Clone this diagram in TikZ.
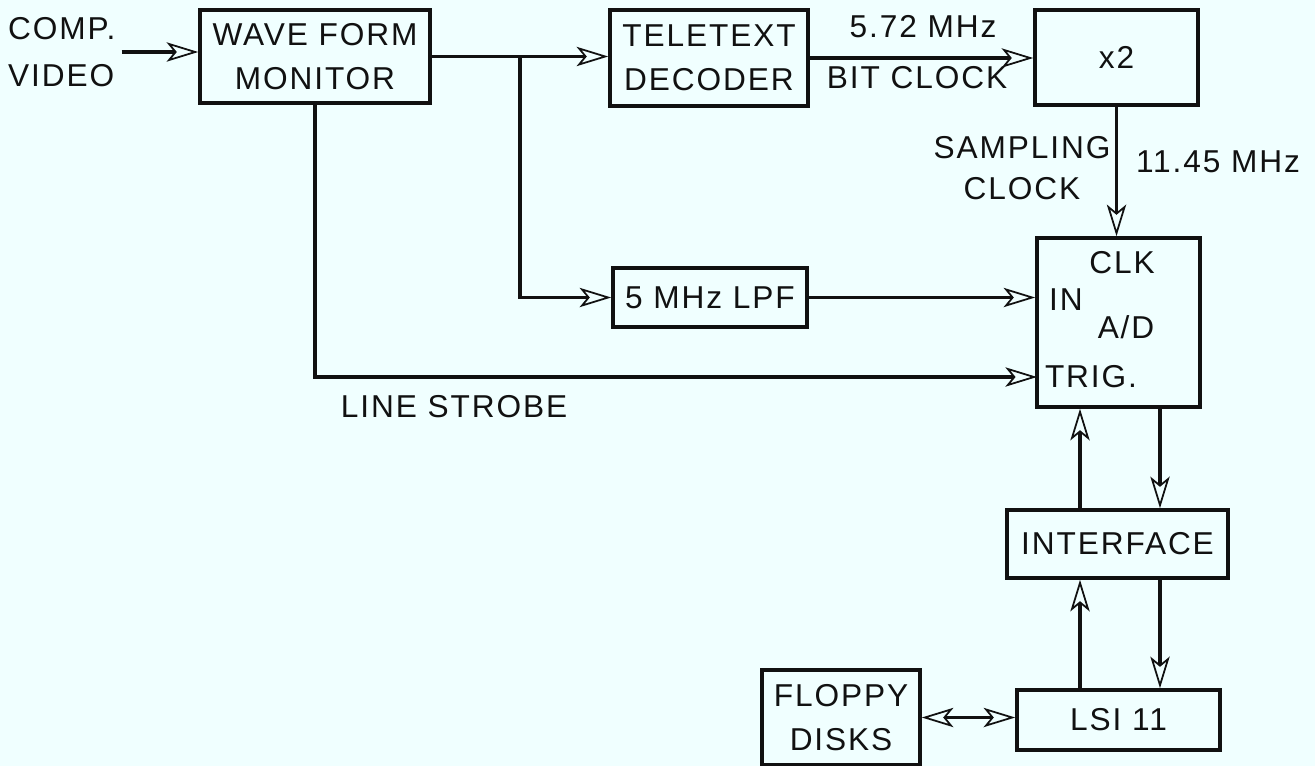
\documentclass[tikz,border=0pt]{standalone}
\usepackage{fontspec}
\setmainfont{Liberation Sans}[LetterSpace=6]
\usetikzlibrary{arrows.meta,positioning,calc}
\definecolor{PaperCyan}{HTML}{F0FFFF}
\definecolor{InkBlack}{HTML}{111111}

\begin{document}
\begin{tikzpicture}[x=0.2mm, y=-0.2mm, >={Stealth[open, length=18pt, width=11pt, inset=4.5pt, line width=1pt]}, every node/.style={font=\fontsize{18}{25}\selectfont, align=center, text=InkBlack}, block/.style={draw=InkBlack, line width=2pt, inner sep=0pt}, arr/.style={->, line width=2pt, draw=InkBlack}]
        \fill[PaperCyan] (0,0) rectangle (1315,766);
        \useasboundingbox (0,0) rectangle (1315,766);

        % blocks
        \node[block, minimum width=4.6cm, minimum height=1.86cm] (wfm) at (315,56.5) {WAVE FORM\\MONITOR};
        \node[block, minimum width=3.96cm, minimum height=1.92cm] (teletext) at (709,58) {TELETEXT\\DECODER};
        \node[block, minimum width=3.26cm, minimum height=1.9cm] (doubler) at (1116.5,57.5) {x2};
        \node[block, minimum width=3.88cm, minimum height=1.18cm] (lpf) at (710,297.5) {5 MHz LPF};
        \node[block, minimum width=3.26cm, minimum height=3.38cm] (adc) at (1118.5,322.5) {};
        \node[block, minimum width=4.42cm, minimum height=1.36cm] (iface) at (1117.5,544) {INTERFACE};
        \node[block, minimum width=4.06cm, minimum height=1.2cm] (lsi) at (1118.5,720) {LSI 11};
        \node[block, minimum width=3.16cm, minimum height=1.9cm] (floppy) at (841,717.5) {FLOPPY\\DISKS};

        % A/D port labels
        \node (clk) at (1122,263) {CLK};
        \node (ain) at (1066,300) {IN};
        \node (adname) at (1126,327) {A/D};
        \node (trig) at (1091,377) {TRIG.};

        % free labels
        \node[anchor=west, align=left, font=\fontsize{18}{27}\selectfont] (video) at (2,52) {COMP.\\VIDEO};
        \node (bitfreq) at (923,27) {5.72 MHz};
        \node (bitclk) at (917,78) {BIT CLOCK};
        \node[font=\fontsize{18}{23}\selectfont] (sampclk) at (1022,168) {SAMPLING\\CLOCK};
        \node (sampfreq) at (1218,162) {11.45 MHz};
        \node (strobe) at (454,407) {LINE STROBE};

        \coordinate (split) at (520,57);
        \coordinate (trigin) at (1037,377);
        \coordinate (upx) at (1080,0);
        \coordinate (dnx) at (1160,0);

        \draw[arr] (video.east) -- (video.east -| wfm.west);
        \draw[arr] (wfm.east) -- (wfm.east -| teletext.west);
        \draw[arr] (split) |- (lpf.west);
        \draw[arr] (teletext.east) -- (teletext.east -| doubler.west);
        \draw[arr] (doubler.south) -- (doubler.south |- adc.north);
        \draw[arr] (lpf.east) -- (lpf.east -| adc.west);
        \draw[arr] (wfm.south) |- (trigin);
        \draw[arr] (upx |- iface.north) -- (upx |- adc.south);
        \draw[arr] (dnx |- adc.south) -- (dnx |- iface.north);
        \draw[arr] (upx |- lsi.north) -- (upx |- iface.south);
        \draw[arr] (dnx |- iface.south) -- (dnx |- lsi.north);
        \draw[arr, <->] (floppy.east) -- (floppy.east -| lsi.west);
\end{tikzpicture}
\end{document}
